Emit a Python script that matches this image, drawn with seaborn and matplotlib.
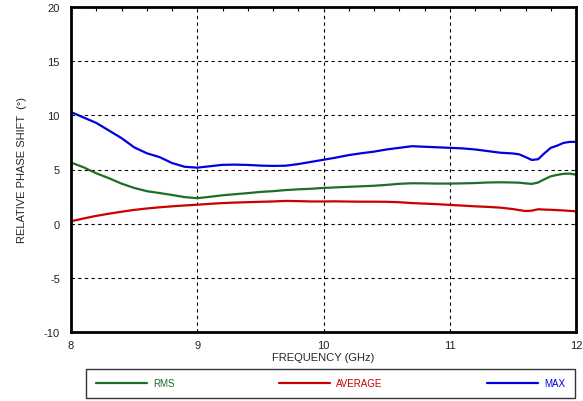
import numpy as np
import pandas as pd
import matplotlib
matplotlib.use('Agg')
import matplotlib.pyplot as plt
from matplotlib.ticker import MultipleLocator
import seaborn as sns

# Data
freq = [8.0, 8.1, 8.2, 8.3, 8.4, 8.5, 8.6, 8.7, 8.8, 8.9,
        9.0, 9.1, 9.2, 9.3, 9.4, 9.5, 9.6, 9.7, 9.8, 9.9,
        10.0, 10.1, 10.2, 10.3, 10.4, 10.5, 10.6, 10.7, 10.8, 10.9,
        11.0, 11.1, 11.2, 11.3, 11.4, 11.5, 11.55, 11.6, 11.65, 11.7,
        11.75, 11.8, 11.85, 11.9, 11.95, 12.0]

max_shift = [10.3, 9.8, 9.3, 8.6, 7.9, 7.05, 6.5, 6.15, 5.6, 5.25,
             5.17, 5.3, 5.43, 5.45, 5.42, 5.36, 5.33, 5.35, 5.5, 5.7,
             5.9, 6.1, 6.33, 6.5, 6.65, 6.85, 7.0, 7.15, 7.1, 7.05,
             7.0, 6.95, 6.85, 6.7, 6.55, 6.48, 6.4, 6.15, 5.88, 5.95,
             6.5, 7.0, 7.2, 7.45, 7.55, 7.55]

rms_shift = [5.65, 5.2, 4.65, 4.2, 3.7, 3.3, 3.0, 2.83, 2.65, 2.45,
             2.35, 2.48, 2.62, 2.72, 2.82, 2.93, 3.0, 3.1, 3.17, 3.22,
             3.3, 3.35, 3.4, 3.45, 3.5, 3.58, 3.68, 3.73, 3.72, 3.7,
             3.7, 3.72, 3.75, 3.8, 3.82, 3.8, 3.78, 3.72, 3.67, 3.8,
             4.1, 4.37, 4.5, 4.6, 4.62, 4.52]

avg_shift = [0.22, 0.48, 0.72, 0.92, 1.1, 1.27, 1.4, 1.51, 1.6, 1.68,
             1.75, 1.83, 1.9, 1.95, 1.98, 2.02, 2.05, 2.1, 2.08, 2.05,
             2.05, 2.06, 2.04, 2.03, 2.03, 2.02, 1.98, 1.9, 1.85, 1.8,
             1.73, 1.67, 1.6, 1.55, 1.48, 1.35, 1.25, 1.17, 1.2, 1.33,
             1.3, 1.28, 1.25, 1.22, 1.18, 1.14]

series = [('RMS', rms_shift, '#1e6e28'),
          ('AVERAGE', avg_shift, '#cc0000'),
          ('MAX', max_shift, '#0000e0')]

sns.set_style('white')
plt.rcParams['font.family'] = ['Liberation Sans', 'DejaVu Sans']
plt.rcParams['axes.unicode_minus'] = False

fig = plt.figure(figsize=(5.83, 4.02), dpi=100)
ax = fig.add_axes([71 / 583, 69 / 402, 505 / 583, 325 / 402])

# Draw each series
for name, vals, col in series:
    sns.lineplot(x=freq, y=vals, color=col, linewidth=1.6, label=name, ax=ax)

ax.set_xlim(8, 12)
ax.set_ylim(-10, 20)
ax.xaxis.set_major_locator(MultipleLocator(1))
ax.yaxis.set_major_locator(MultipleLocator(5))
ax.xaxis.set_minor_locator(MultipleLocator(0.2))

# Dashed grid and heavy frame
ax.grid(True, which='major', color='black', linestyle=(0, (3, 3)), linewidth=0.8)
for sp in ax.spines.values():
    sp.set_color('black')
    sp.set_linewidth(2)

ax.tick_params(axis='x', which='major', length=0, labelsize=8, pad=6, colors='#222222')
ax.tick_params(axis='y', which='major', length=0, labelsize=8, pad=8, colors='#222222')
ax.tick_params(axis='x', which='minor', top=True, bottom=False, direction='in',
               length=3, width=0.8, color='black')

ax.set_xlabel('FREQUENCY (GHz)', fontsize=8, labelpad=1)
ax.set_ylabel('RELATIVE PHASE SHIFT  (°)', fontsize=8, labelpad=12)

# Legend in a box under the plot
handles, labels = ax.get_legend_handles_labels()
ax.get_legend().remove()
leg = fig.legend(handles, labels, loc='lower left', ncol=3, mode='expand',
                 bbox_to_anchor=(86 / 583, 3 / 402, 489 / 583, 27 / 402),
                 frameon=True, fancybox=False, edgecolor='black', fontsize=7,
                 handlelength=5.3, handletextpad=0.6, borderaxespad=0,
                 borderpad=1.0, labelcolor='linecolor')
leg.get_frame().set_linewidth(1.0)

fig.savefig('out.png', dpi=100)
